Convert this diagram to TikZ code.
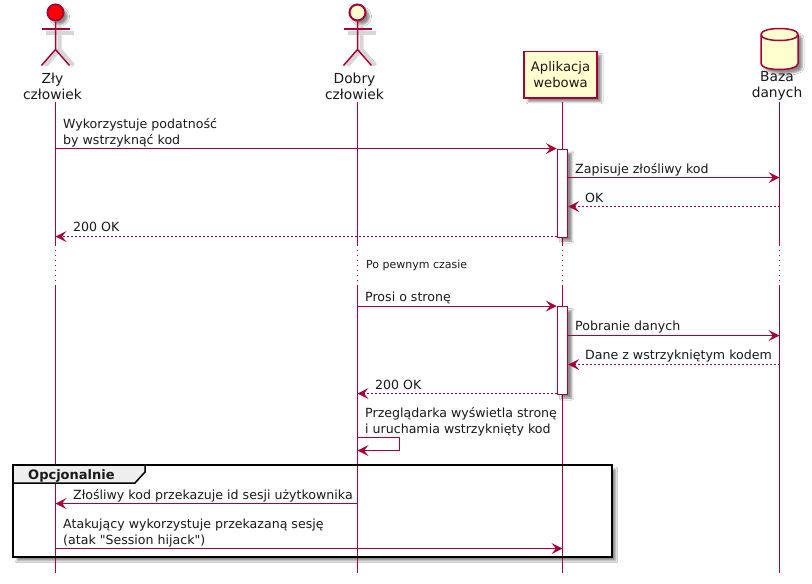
\documentclass[tikz,border=0pt]{standalone}
\usepackage{fontspec}
\setmainfont{DejaVu Sans}[Ligatures=TeXOff]
\usepackage{xcolor}
\usetikzlibrary{shadows.blur,positioning,arrows.meta,calc}
\definecolor{line}{HTML}{A80036}
\definecolor{paper}{HTML}{FEFECE}
\definecolor{tabfill}{HTML}{EEEEEE}
\definecolor{evil}{HTML}{FF0000}
\tikzset{
  softshadow/.style={blur shadow={shadow blur steps=5,shadow xshift=4pt,shadow yshift=-4pt,shadow opacity=45,shadow blur radius=2pt}},
  msg/.style={draw=line, line width=1pt, -{Stealth[length=11pt,width=11pt,inset=4.5pt,line width=0pt,fill=line]}},
  reply/.style={msg, dash pattern=on 2pt off 2pt},
  lifeline/.style={draw=line, line width=1pt},
  delayline/.style={draw=line, line width=1pt, dash pattern=on 1pt off 4pt},
  msgtext/.style={inner sep=0pt, anchor=base west, align=left, font=\fontsize{12.6}{15.2}\selectfont, text=black!90},
  headtext/.style={inner sep=0pt, align=center, font=\fontsize{13.8}{16}\selectfont, text=black!90},
  activation/.style={draw=line, fill=white, line width=1pt, minimum width=10.5pt, inner sep=0pt, anchor=north, softshadow},
  actorhead/.style={circle, draw=line, line width=2pt, minimum size=16pt, inner sep=0pt, softshadow},
  limb/.style={draw=line, line width=1.5pt},
  limbshadow/.style={draw=black!16, line width=4pt},
}
\newcommand{\stickman}[1]{%
  \draw[limbshadow] ($(#1.south)+(4,4)$) -- ++(0,24) -- ++(-14,16) ++(14,-16) -- ++(14,16);
  \draw[limbshadow] ($(#1.south)+(-10,11.5)$) -- ++(28,0);
  \draw[limb] (#1.south) -- ++(0,28) -- ++(-14,16) ++(14,-16) -- ++(14,16);
  \draw[limb] ($(#1.south)+(-14,7.5)$) -- ++(28,0);
}
\begin{document}
\begin{tikzpicture}[x=1pt,y=-1pt]
\useasboundingbox (0,0) rectangle (812,584);
\fill[white] (0,0) rectangle (812,584);

% group frame goes under the lifelines
\node[fill=white, minimum width=598.5pt, minimum height=91.5pt, inner sep=0pt, anchor=north west, softshadow] (grp) at (13,465) {};

% participants
\node[actorhead, fill=evil] (zlyhead) at (55.5,12.5) {};
\stickman{zlyhead}
\node[headtext] (zly) at (52.5,86) {Zły\\człowiek};
\node[actorhead, fill=paper] (dobryhead) at (357.5,12.5) {};
\stickman{dobryhead}
\node[headtext] (dobry) at (354.5,86) {Dobry\\człowiek};
\node[draw=line, fill=paper, line width=1.5pt, minimum width=73pt, minimum height=46.5pt, inner sep=0pt, align=center, font=\fontsize{13.2}{16}\selectfont, text=black!90, softshadow] (app) at (560.5,74.5) {Aplikacja\\webowa};
\draw[draw=line, fill=paper, line width=1.5pt, softshadow] (761,34.5) .. controls (761,26.5) and (798,26.5) .. (798,34.5) -- (798,63.5) .. controls (798,71.5) and (761,71.5) .. (761,63.5) -- cycle;
\draw[draw=line, line width=1.5pt] (761,34.5) .. controls (761,42.5) and (798,42.5) .. (798,34.5);
\node[headtext] (bazatxt) at (777,86) {Baza\\danych};

% lifeline rows
\coordinate (top) at (0,102);
\coordinate (gapa) at (0,245);
\coordinate (gapb) at (0,285);
\coordinate (bot) at (0,573);
\coordinate (xzly) at (55.5,0);
\coordinate (xdobry) at (357.5,0);
\coordinate (xapp) at (562.5,0);
\coordinate (xbaza) at (779.5,0);
\foreach \who in {xzly,xdobry,xapp,xbaza}{
  \draw[lifeline] (\who |- top) -- (\who |- gapa);
  \draw[delayline] (\who |- gapa) -- (\who |- gapb);
  \draw[lifeline] (\who |- gapb) -- (\who |- bot);
}

% activations
\node[activation, minimum height=88pt] (acta) at (562.5,148.5) {};
\node[activation, minimum height=87.5pt] (actb) at (562.5,306) {};

% message rows
\coordinate (ra) at (0,148.5);
\coordinate (rb) at (0,177.5);
\coordinate (rc) at (0,206.5);
\coordinate (rd) at (0,236.5);
\coordinate (re) at (0,306);
\coordinate (rf) at (0,335.5);
\coordinate (rg) at (0,364.5);
\coordinate (rh) at (0,393.5);
\coordinate (ri) at (0,437.5);
\coordinate (rj) at (0,450.5);
\coordinate (rk) at (0,503.5);
\coordinate (rl) at (0,548.5);
\coordinate (xloop) at (399.5,0);

\draw[msg] (xzly |- ra) -- (acta.west |- ra);
\draw[msg] (acta.east |- rb) -- (xbaza |- rb);
\draw[reply] (xbaza |- rc) -- (acta.east |- rc);
\draw[reply] (acta.west |- rd) -- (xzly |- rd);
\draw[msg] (xdobry |- re) -- (actb.west |- re);
\draw[msg] (actb.east |- rf) -- (xbaza |- rf);
\draw[reply] (xbaza |- rg) -- (actb.east |- rg);
\draw[reply] (actb.west |- rh) -- (xdobry |- rh);
\draw[msg] (xdobry |- ri) -- (xloop |- ri) -- (xloop |- rj) -- (xdobry |- rj);
\draw[msg] (xdobry |- rk) -- (xzly |- rk);
\draw[msg] (xzly |- rl) -- (xapp |- rl);

% message labels
\node[msgtext] (ta) at (63,144) {Wykorzystuje podatność\\by wstrzyknąć kod};
\node[msgtext] (tb) at (575,173) {Zapisuje złośliwy kod};
\node[msgtext] (tc) at (585,202) {OK};
\node[msgtext] (td) at (73,231) {200 OK};
\node[msgtext, font=\fontsize{11}{13}\selectfont] (te) at (366,268) {Po pewnym czasie};
\node[msgtext] (tf) at (365,301) {Prosi o stronę};
\node[msgtext] (tg) at (575,330) {Pobranie danych};
\node[msgtext] (th) at (585,359) {Dane z wstrzykniętym kodem};
\node[msgtext] (ti) at (375,389) {200 OK};
\node[msgtext] (tj) at (365,433) {Przeglądarka wyświetla stronę\\i uruchamia wstrzyknięty kod};
\node[msgtext] (tk) at (73,499) {Złośliwy kod przekazuje id sesji użytkownika};
\node[msgtext] (tl) at (63,544) {Atakujący wykorzystuje przekazaną sesję\\(atak "Session hijack")};

% group frame and tab
\draw[fill=tabfill, draw=black, line width=1.5pt] (grp.north west) -- ++(132,0) -- ++(0,7) -- ++(-10,11) -- ++(-122,0) -- cycle;
\draw[draw=black, line width=2pt] (grp.north west) rectangle (grp.south east);
\node[msgtext, font=\fontsize{13}{15}\selectfont\bfseries] (tgrp) at (28,479) {Opcjonalnie};
\end{tikzpicture}
\end{document}
